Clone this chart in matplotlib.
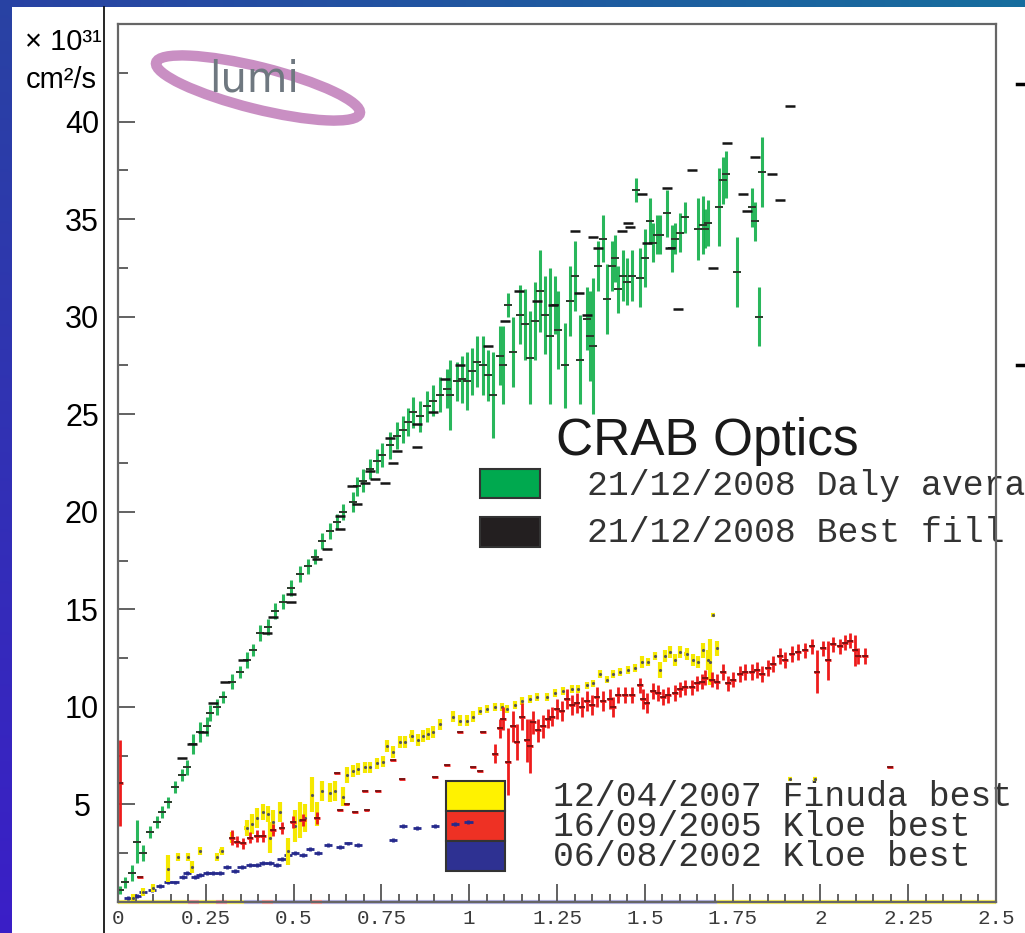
#!/usr/bin/env python3

import numpy as np
import matplotlib.pyplot as plt
from matplotlib.patches import Rectangle, Ellipse

OUT = "out.png"

# CRAB optics, 21/12/2008, daily average (green)
green_x = [0.006, 0.020, 0.039, 0.053, 0.071, 0.091, 0.110, 0.124, 0.142, 0.162,
           0.181, 0.196, 0.214, 0.233, 0.252, 0.262, 0.281, 0.299, 0.324, 0.348,
           0.366, 0.384, 0.404, 0.427, 0.447, 0.470, 0.494, 0.518, 0.541, 0.561,
           0.580, 0.604, 0.623, 0.641, 0.669, 0.680, 0.698, 0.718, 0.737, 0.751,
           0.775, 0.794, 0.812, 0.826, 0.840, 0.860, 0.879, 0.897, 0.917, 0.936,
           0.945, 0.964, 0.979, 0.993, 1.007, 1.021, 1.039, 1.054, 1.068, 1.088,
           1.096, 1.110, 1.125, 1.145, 1.159, 1.173, 1.187, 1.202, 1.216, 1.230,
           1.244, 1.253, 1.273, 1.287, 1.301, 1.315, 1.335, 1.344, 1.352, 1.366,
           1.381, 1.392, 1.406, 1.415, 1.424, 1.438, 1.448, 1.463, 1.474, 1.486,
           1.501, 1.515, 1.523, 1.534, 1.543, 1.562, 1.577, 1.586, 1.600, 1.614,
           1.651, 1.666, 1.671, 1.680, 1.711, 1.722, 1.731, 1.762, 1.804, 1.814,
           1.825, 1.833]
green_y = [0.6, 1.0, 1.5, 3.1, 2.5, 3.6, 4.1, 4.6, 5.1, 5.9,
           6.5, 6.9, 8.1, 8.7, 9.0, 9.7, 10.0, 10.5, 11.3, 11.8,
           12.4, 12.9, 13.8, 14.1, 14.9, 15.4, 16.1, 16.8, 17.2, 17.7,
           18.5, 19.0, 19.5, 20.0, 20.5, 21.3, 21.6, 22.2, 22.6, 22.9,
           23.4, 23.9, 24.2, 24.6, 25.1, 24.9, 25.4, 25.7, 26.0, 26.3,
           26.0, 26.7, 26.8, 26.7, 27.2, 27.7, 27.5, 27.0, 26.0, 28.0,
           27.5, 30.6, 28.2, 30.1, 29.6, 27.9, 29.8, 31.3, 30.1, 29.0,
           30.6, 29.3, 27.5, 30.8, 32.1, 27.8, 29.9, 29.0, 28.5, 32.6,
           34.0, 30.9, 32.6, 33.0, 31.4, 32.1, 31.8, 32.1, 36.5, 32.0,
           33.0, 34.9, 33.8, 34.2, 34.2, 35.3, 33.5, 34.0, 34.3, 35.1,
           34.5, 34.7, 34.5, 34.8, 35.6, 37.0, 37.3, 32.3, 35.6, 34.9,
           30.0, 37.4]
green_err = [0.2, 0.3, 0.4, 1.1, 0.4, 0.3, 0.3, 0.3, 0.3, 0.3,
             0.3, 0.4, 0.5, 0.5, 0.5, 0.4, 0.4, 0.3, 0.4, 0.3,
             0.4, 0.3, 0.4, 0.4, 0.4, 0.4, 0.4, 0.4, 0.4, 0.4,
             0.4, 0.4, 0.4, 0.4, 0.5, 0.5, 0.6, 0.5, 0.6, 0.6,
             0.7, 0.7, 0.7, 0.7, 0.8, 0.8, 0.8, 0.8, 0.9, 1.0,
             1.8, 1.0, 1.2, 1.5, 1.2, 1.3, 1.5, 1.3, 2.2, 1.5,
             2.0, 0.6, 1.8, 1.5, 1.8, 2.4, 2.0, 2.1, 2.0, 3.5,
             1.5, 2.0, 2.2, 1.8, 1.8, 2.3, 1.6, 2.3, 3.5, 1.3,
             1.2, 1.8, 1.3, 1.2, 1.2, 1.3, 1.2, 1.3, 0.6, 1.5,
             1.5, 1.2, 1.0, 1.0, 1.0, 1.2, 1.2, 0.8, 1.0, 0.8,
             1.6, 1.5, 1.0, 1.2, 2.0, 1.2, 1.2, 1.8, 1.0, 1.0,
             1.5, 1.8]

# CRAB optics, 21/12/2008, best fill (black)
black_x = [1.733, 1.913, 1.814, 1.634, 1.861, 1.885, 1.780, 1.563, 1.492, 1.458,
           1.434, 1.451, 1.352, 1.301, 1.366, 1.505, 1.572, 1.694, 1.594, 1.312,
           1.335, 1.142, 1.102, 1.054, 0.974, 1.192, 1.239, 1.792, 0.931, 0.897,
           0.851, 0.851, 0.794, 0.775, 0.783, 0.760, 0.732, 0.718, 0.703, 0.665,
           0.680, 0.632, 0.632, 0.594, 0.566, 0.494, 0.494, 0.441, 0.423, 0.356,
           0.305, 0.271, 0.242, 0.210, 0.181]
black_y = [38.9, 40.8, 38.2, 37.5, 37.3, 36.0, 36.3, 36.6, 36.3, 34.6,
           34.4, 34.8, 34.1, 34.4, 33.5, 33.8, 33.5, 32.5, 30.4, 31.2,
           30.1, 31.3, 29.8, 28.5, 27.5, 30.8, 30.6, 35.4, 26.8, 25.1,
           24.5, 23.3, 23.1, 23.8, 22.5, 21.5, 21.7, 22.1, 21.5, 21.3,
           20.4, 19.8, 19.1, 18.1, 17.6, 15.8, 15.4, 14.6, 13.8, 12.4,
           11.3, 10.2, 8.7, 8.1, 7.4]

# 12/04/2007 Finuda best (yellow)
yellow_x = [0.043, 0.071, 0.100, 0.142, 0.171, 0.199, 0.210, 0.233, 0.281, 0.295,
            0.324, 0.366, 0.381, 0.395, 0.413, 0.427, 0.433, 0.441, 0.461, 0.484,
            0.504, 0.518, 0.532, 0.552, 0.566, 0.580, 0.604, 0.618, 0.641, 0.651,
            0.669, 0.683, 0.703, 0.718, 0.737, 0.755, 0.765, 0.783, 0.803, 0.817,
            0.836, 0.854, 0.868, 0.883, 0.897, 0.917, 0.954, 0.974, 0.993, 1.011,
            1.031, 1.050, 1.073, 1.093, 1.107, 1.130, 1.150, 1.173, 1.192, 1.221,
            1.244, 1.267, 1.292, 1.310, 1.335, 1.352, 1.372, 1.392, 1.409, 1.429,
            1.452, 1.472, 1.491, 1.509, 1.529, 1.543, 1.558, 1.572, 1.586, 1.600,
            1.619, 1.637, 1.651, 1.666, 1.680, 1.686, 1.705, 1.694, 1.913, 1.985]
yellow_y = [0.2, 0.5, 0.7, 1.7, 2.3, 2.3, 1.8, 2.6, 2.3, 2.6,
            3.3, 3.8, 4.0, 4.3, 4.6, 4.5, 3.3, 4.1, 4.6, 2.6,
            3.9, 4.2, 4.3, 5.5, 4.5, 5.7, 5.6, 5.7, 5.4, 6.5,
            6.7, 6.8, 6.9, 6.9, 7.1, 7.2, 8.0, 7.7, 8.2, 8.2,
            8.5, 8.3, 8.5, 8.6, 8.7, 9.1, 9.5, 9.3, 9.3, 9.5,
            9.8, 9.9, 10.0, 10.0, 9.9, 10.1, 10.3, 10.4, 10.5, 10.5,
            10.7, 10.8, 10.9, 10.9, 11.1, 11.2, 11.7, 11.4, 11.7, 11.8,
            11.9, 12.0, 12.3, 12.3, 12.6, 11.9, 12.6, 12.8, 12.4, 12.8,
            12.7, 12.4, 12.3, 12.9, 12.4, 12.3, 13.0, 14.7, 6.3, 6.3]
yellow_err = [0.2, 0.2, 0.2, 0.7, 0.2, 0.2, 0.3, 0.2, 0.2, 0.2,
              0.3, 0.4, 0.5, 0.5, 0.4, 0.4, 0.8, 0.6, 0.5, 0.7,
              0.8, 0.9, 0.7, 0.9, 0.6, 0.5, 0.5, 0.5, 0.5, 0.4,
              0.3, 0.3, 0.3, 0.3, 0.3, 0.3, 0.3, 0.3, 0.3, 0.3,
              0.3, 0.3, 0.3, 0.3, 0.3, 0.3, 0.3, 0.3, 0.3, 0.3,
              0.2, 0.2, 0.2, 0.2, 0.2, 0.2, 0.2, 0.2, 0.2, 0.2,
              0.2, 0.2, 0.2, 0.2, 0.2, 0.2, 0.2, 0.2, 0.2, 0.2,
              0.2, 0.2, 0.3, 0.2, 0.2, 0.4, 0.3, 0.3, 0.3, 0.3,
              0.3, 0.3, 0.3, 0.4, 0.5, 1.2, 0.4, 0.0, 0.0, 0.0]

# 16/09/2005 Kloe best (red)
red_x = [0.006, 0.063, 0.324, 0.338, 0.356, 0.376, 0.395, 0.413, 0.441, 0.466,
         0.498, 0.527, 0.566, 0.623, 0.632, 0.651, 0.675, 0.703, 0.708, 0.740,
         0.783, 0.808, 0.903, 0.936, 0.974, 1.011, 1.031, 1.039, 1.073, 1.088,
         1.096, 1.110, 1.125, 1.135, 1.150, 1.164, 1.173, 1.182, 1.196, 1.210,
         1.224, 1.235, 1.249, 1.263, 1.278, 1.292, 1.306, 1.320, 1.335, 1.349,
         1.363, 1.381, 1.401, 1.409, 1.424, 1.444, 1.463, 1.486, 1.495, 1.505,
         1.523, 1.538, 1.552, 1.566, 1.586, 1.600, 1.614, 1.634, 1.648, 1.662,
         1.671, 1.691, 1.705, 1.723, 1.737, 1.751, 1.771, 1.785, 1.804, 1.819,
         1.833, 1.851, 1.865, 1.885, 1.899, 1.918, 1.936, 1.956, 1.975, 1.989,
         2.007, 2.022, 2.036, 2.056, 2.070, 2.084, 2.099, 2.107, 2.127, 2.198]
red_y = [6.1, 1.3, 3.3, 3.1, 3.0, 3.3, 3.4, 3.4, 3.7, 3.8,
         4.1, 4.2, 4.3, 6.6, 4.7, 5.0, 4.6, 5.7, 4.7, 5.7,
         7.3, 6.3, 6.4, 7.0, 8.7, 6.9, 6.7, 8.7, 7.6, 8.9,
         9.4, 7.2, 9.0, 8.2, 9.5, 8.3, 8.0, 9.2, 8.8, 9.0,
         9.4, 9.5, 9.9, 9.8, 10.4, 10.1, 10.2, 10.0, 10.3, 10.1,
         10.5, 10.3, 10.4, 10.0, 10.6, 10.6, 10.6, 11.1, 10.4, 10.2,
         10.8, 10.7, 10.5, 10.6, 10.7, 10.9, 11.0, 11.0, 11.2, 11.3,
         11.5, 11.4, 11.3, 11.8, 11.2, 11.4, 11.7, 11.8, 11.8, 11.9,
         11.7, 12.0, 12.2, 12.6, 12.4, 12.7, 12.8, 12.9, 13.1, 11.8,
         13.0, 12.4, 13.2, 13.1, 13.3, 13.4, 12.9, 12.6, 12.6, 6.9]
red_err = [2.2, 0.0, 0.4, 0.3, 0.3, 0.3, 0.3, 0.3, 0.3, 0.3,
           0.3, 0.3, 0.3, 0.0, 0.0, 0.0, 0.0, 0.0, 0.0, 0.0,
           0.0, 0.0, 0.0, 0.0, 0.0, 0.0, 0.0, 0.0, 0.5, 0.5,
           0.6, 1.7, 0.8, 0.9, 0.7, 1.1, 1.4, 0.6, 0.6, 0.6,
           0.5, 0.5, 0.5, 0.5, 0.5, 0.5, 0.5, 0.5, 0.5, 0.5,
           0.5, 0.5, 0.5, 0.5, 0.4, 0.4, 0.4, 0.4, 0.5, 0.5,
           0.4, 0.4, 0.4, 0.4, 0.4, 0.4, 0.4, 0.4, 0.4, 0.4,
           0.4, 0.4, 0.4, 0.4, 0.4, 0.4, 0.4, 0.4, 0.4, 0.4,
           0.4, 0.4, 0.4, 0.4, 0.4, 0.4, 0.4, 0.4, 0.4, 1.1,
           0.4, 1.0, 0.4, 0.4, 0.4, 0.4, 0.8, 0.4, 0.4, 0.0]

# 06/08/2002 Kloe best (blue)
blue_x = [0.028, 0.053, 0.071, 0.096, 0.120, 0.142, 0.162, 0.185, 0.196, 0.219,
          0.233, 0.253, 0.271, 0.290, 0.310, 0.333, 0.352, 0.376, 0.395, 0.413,
          0.433, 0.452, 0.466, 0.484, 0.504, 0.527, 0.547, 0.569, 0.598, 0.632,
          0.655, 0.683, 0.783, 0.812, 0.851, 0.903, 0.960, 0.998]
blue_y = [0.2, 0.3, 0.5, 0.6, 0.8, 1.0, 1.0, 1.3, 1.5, 1.3,
          1.4, 1.5, 1.5, 1.5, 1.8, 1.6, 1.8, 1.9, 1.9, 2.0,
          2.0, 1.9, 2.2, 2.4, 2.5, 2.4, 2.7, 2.5, 2.9, 2.8,
          3.0, 2.9, 3.2, 3.9, 3.8, 3.9, 4.0, 4.1]

# zero-luminosity stretches drawn along the time axis
zero_start = [0.00, 0.20, 0.23, 0.28, 0.31, 0.36, 0.41, 0.44, 0.55, 0.58, 1.705]
zero_end = [0.20, 0.23, 0.28, 0.31, 0.36, 0.41, 0.44, 0.55, 0.58, 1.705, 2.50]
zero_color = ["#f7ef60", "#f59a9a", "#f7ef60", "#f59a9a", "#f7ef60", "#b8b8e8",
              "#f59a9a", "#b8b8e8", "#f59a9a", "#b8b8e8", "#f7ef60"]

x_ticks = [0, 0.25, 0.5, 0.75, 1, 1.25, 1.5, 1.75, 2, 2.25, 2.5]
x_labels = ["0", "0.25", "0.5", "0.75", "1", "1.25", "1.5", "1.75", "2", "2.25", "2.5"]
y_ticks = [5, 10, 15, 20, 25, 30, 35, 40]
y_labels = ["5", "10", "15", "20", "25", "30", "35", "40"]

W, H = 1025, 933


def slide_background(fig):
    # slide backdrop in pixel coordinates (y down)
    bg = fig.add_axes([0, 0, 1, 1])
    u, v = np.meshgrid(np.linspace(0, 1, 64), np.linspace(0, 1, 64))
    tl = np.array([0.16, 0.26, 0.64])
    tr = np.array([0.09, 0.43, 0.62])
    bl = np.array([0.23, 0.12, 0.78])
    img = (((1 - u) * (1 - v))[..., None] * tl + (u * (1 - v))[..., None] * tr
           + (v)[..., None] * bl)
    bg.imshow(img, extent=(0, W, H, 0), aspect="auto", interpolation="bilinear")
    bg.set_xlim(0, W)
    bg.set_ylim(H, 0)
    bg.axis("off")

    bg.add_patch(Rectangle((12, 7), W - 12, H - 7, fc="white", ec="none"))
    bg.plot([104, 104], [7, H], color="black", lw=1.2)

    # bits of the neighbouring picture on the right
    bg.plot([1017, 1025], [84, 84], color="black", lw=2.5)
    bg.plot([1017, 1025], [365, 365], color="black", lw=2.5)

    # lumi logo
    bg.add_patch(Ellipse((258, 88), 210, 42, angle=14, fc="none",
                         ec="#c383bd", lw=7.5, alpha=0.9))
    bg.text(254, 80, "lumi", fontsize=30, color="#6f7880", ha="center", va="center",
            family=["Liberation Sans Narrow", "DejaVu Sans"])

    # y-axis unit
    bg.text(63, 42, "× 10³¹", fontsize=21, family="Liberation Sans", ha="center", va="center")
    bg.text(61, 80, "cm²/s", fontsize=21, family="Liberation Sans", ha="center", va="center")

    # legends
    bg.text(556, 455, "CRAB Optics", fontsize=37, family="Liberation Sans",
            va="baseline", color="#1a1a1a")
    bg.add_patch(Rectangle((480, 469), 60, 29, fc="#00a94f", ec="#333333", lw=1.5))
    bg.add_patch(Rectangle((480, 517), 60, 30, fc="#231f20", ec="#333333", lw=1.5))
    mono = dict(fontsize=25, family="Liberation Mono", va="center", color="#333333")
    bg.text(587, 485, "21/12/2008 Daly average", **mono)
    bg.text(587, 532, "21/12/2008 Best fill", **mono)

    bg.add_patch(Rectangle((446, 781), 59, 30, fc="#fff200", ec="#333333", lw=1.5))
    bg.add_patch(Rectangle((446, 811), 59, 30, fc="#ee3124", ec="#333333", lw=1.5))
    bg.add_patch(Rectangle((446, 841), 59, 30, fc="#2e3192", ec="#333333", lw=1.5))
    bg.text(553, 796, "12/04/2007 Finuda best", **mono)
    bg.text(553, 826, "16/09/2005 Kloe best", **mono)
    bg.text(553, 856, "06/08/2002 Kloe best", **mono)
    return bg


def main():
    fig = plt.figure(figsize=(W / 100, H / 100), dpi=100)
    slide_background(fig)

    ax = fig.add_axes([118 / W, 1 - 902 / H, 878 / W, 878 / H])
    ax.set_facecolor("none")

    ax.hlines(np.zeros(len(zero_start)), zero_start, zero_end, colors=zero_color,
              lw=3, zorder=1.5, clip_on=False)

    ax.errorbar(blue_x, blue_y, xerr=0.012, yerr=0.1, fmt="none",
                ecolor="#262a8c", elinewidth=2)
    ax.errorbar(yellow_x, yellow_y, xerr=0.006, yerr=yellow_err, fmt="none",
                ecolor="#f5e800", elinewidth=3)
    ax.plot(yellow_x, yellow_y, ls="none", marker=".", ms=2.5, color="#555555")
    ax.errorbar(red_x, red_y, xerr=0.008, yerr=red_err, fmt="none",
                ecolor="#ee1c1c", elinewidth=2)
    ax.plot(red_x, red_y, ls="none", marker="_", ms=4, mew=1.2, color="#6a1010")

    ax.errorbar(green_x, green_y, yerr=green_err, fmt="none",
                ecolor="#12b04a", elinewidth=2.2, alpha=0.9)
    ax.plot(green_x, green_y, ls="none", marker="_", ms=6, mew=1.4, color="#2a3a2a")
    ax.plot(black_x, black_y, ls="none", marker="_", ms=6.5, mew=1.8, color="#151515")

    ax.set_xlim(0, 2.5)
    ax.set_ylim(0, 45)

    ax.set_xticks(x_ticks, labels=x_labels)
    ax.set_xticks(np.arange(0, 2.501, 0.05), minor=True)
    ax.set_yticks(y_ticks, labels=y_labels)
    ax.set_yticks(np.arange(0, 45.01, 2.5), minor=True)

    ax.tick_params(axis="x", which="major", direction="in", length=13, width=1.3,
                   color="#555555", pad=5, labelsize=15, labelcolor="#3a3a3a")
    ax.tick_params(axis="x", which="minor", direction="in", length=6, width=1.3,
                   color="#555555")
    ax.tick_params(axis="y", which="major", direction="in", length=12, width=1.3,
                   color="#555555", pad=26, labelsize=22, labelcolor="black")
    ax.tick_params(axis="y", which="minor", direction="in", length=7, width=1.3,
                   color="#555555")
    for lbl in ax.get_xticklabels():
        lbl.set_fontfamily("Liberation Mono")
    for lbl in ax.get_yticklabels():
        lbl.set_fontfamily("Liberation Sans")
        lbl.set_horizontalalignment("center")

    for s in ax.spines.values():
        s.set_color("#666666")
        s.set_linewidth(1.6)

    fig.savefig(OUT, dpi=100)
    print("Saved:", OUT)


if __name__ == "__main__":
    main()
